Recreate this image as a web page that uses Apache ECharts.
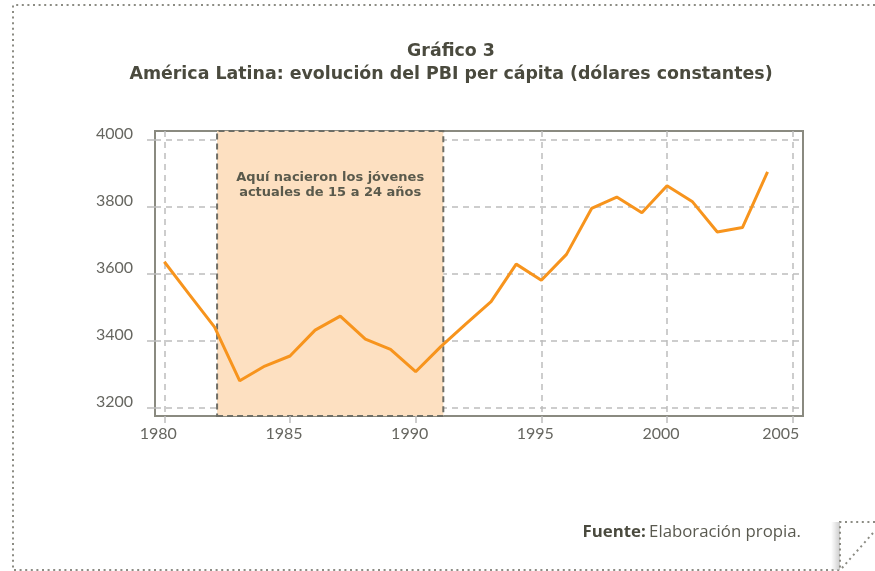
<!DOCTYPE html>
<html>
<head>
<meta charset="utf-8">
<script src="https://cdn.jsdelivr.net/npm/echarts@6/dist/echarts.min.js"></script>
<style>
  html, body { margin: 0; padding: 0; background: #fff; }
  #main { width: 875px; height: 571px; }
</style>
</head>
<body>
<div id="main"></div>
<script>
// años y PBI per cápita
var years = [1980, 1981, 1982, 1983, 1984, 1985, 1986, 1987, 1988, 1989, 1990, 1991,
             1992, 1993, 1994, 1995, 1996, 1997, 1998, 1999, 2000, 2001, 2002, 2003, 2004];
var pbi = [3635, 3537, 3440, 3280, 3324, 3354, 3431, 3473, 3404, 3374, 3307, 3382,
           3450, 3516, 3628, 3580, 3657, 3794, 3828, 3781, 3862, 3815, 3724, 3737, 3903];
var xTicks = [1980, 1985, 1990, 1995, 2000, 2005];
var yTicks = [3200, 3400, 3600, 3800, 4000];
var banda = [1982.1, 1991.1];

var textoBanda = 'Aquí nacieron los jóvenes\nactuales de 15 a 24 años';

var data = years.map(function (y, i) { return [y, pbi[i]]; });

var gris = '#8a8a80';
var punteado = { stroke: '#8c8c84', lineWidth: 2, lineDash: [2, 3.6] };

var option = {
    animation: false,
    grid: {
        left: 155, top: 131, right: 72, bottom: 155,
        show: true,
        borderColor: gris,
        borderWidth: 2,
        backgroundColor: 'transparent'
    },
    xAxis: {
        type: 'value',
        min: 1979.63,
        max: 2005.41,
        z: 1,
        axisLine: { show: false },
        axisTick: {
            show: true, length: 7, customValues: xTicks,
            lineStyle: { color: '#bdbdbd', width: 1.5 }
        },
        axisLabel: {
            customValues: xTicks,
            color: '#666660',
            fontFamily: 'Lato',
            fontSize: 16,
            margin: 10,
            padding: [0, 12, 0, 0],
            formatter: function (v) {
                return v === 2005 ? '{f|2005}' : String(v);
            },
            rich: { f: { fontFamily: 'Lato', fontSize: 16, color: '#666660', padding: [0, 12, 0, 0] } }
        },
        splitLine: {
            show: true,
            lineStyle: { color: '#bdbdbd', width: 1.5, type: [6, 5] }
        }
    },
    yAxis: {
        type: 'value',
        min: 3175,
        max: 4025,
        z: 1,
        axisLine: { show: false },
        axisTick: {
            show: true, length: 8, customValues: yTicks,
            lineStyle: { color: '#bdbdbd', width: 1.5 }
        },
        axisLabel: {
            customValues: yTicks,
            color: '#666660',
            fontFamily: 'Lato',
            fontSize: 16,
            margin: 22,
            verticalAlign: 'bottom',
            lineHeight: 12,
            formatter: function (v) { return String(v); }
        },
        splitLine: {
            show: true,
            lineStyle: { color: '#bdbdbd', width: 1.5, type: [6, 5] }
        }
    },
    series: [
        {
            type: 'line',
            z: 0,
            data: [],
            silent: true,
            markArea: {
                silent: true,
                itemStyle: {
                    color: '#fde0c1',
                    borderColor: '#6e6e66',
                    borderWidth: 2,
                    borderType: [6, 4]
                },
                label: {
                    show: true,
                    position: 'insideTop',
                    distance: 40,
                    color: '#5a5a4c',
                    fontFamily: 'DejaVu Sans',
                    fontWeight: 'bold',
                    fontSize: 13,
                    lineHeight: 15,
                    align: 'center'
                },
                data: [[{ xAxis: banda[0], name: textoBanda }, { xAxis: banda[1] }]]
            }
        },
        {
            type: 'line',
            z: 3,
            data: data,
            symbol: 'none',
            lineStyle: { color: '#f7941d', width: 3 },
            itemStyle: { color: '#f7941d' }
        }
    ],
    graphic: [
        {
            type: 'text',
            style: {
                text: 'Gráfico 3\nAmérica Latina: evolución del PBI per cápita (dólares constantes)',
                x: 451, y: 40,
                textAlign: 'center',
                fill: '#4a4a3e',
                font: 'bold 17.4px "DejaVu Sans"',
                lineHeight: 23
            }
        },
        {
            type: 'text',
            style: {
                text: '{b|Fuente:} {n|Elaboración propia.}',
                x: 801, y: 532,
                textAlign: 'right',
                textVerticalAlign: 'middle',
                rich: {
                    b: { font: 'bold 16.8px "Open Sans"', fill: '#4a4a3e' },
                    n: { font: '16.8px "Open Sans"', fill: '#5a5a50' }
                }
            }
        },
        // borde punteado de la página
        { type: 'polyline', silent: true, shape: { points: [[875, 5], [13, 5], [13, 570], [840, 570]] }, style: punteado },
        // esquina doblada
        {
            type: 'rect', silent: true,
            shape: { x: 831, y: 522, width: 9, height: 48 },
            style: {
                fill: new echarts.graphic.LinearGradient(0, 0, 1, 0, [
                    { offset: 0, color: 'rgba(200,200,200,0)' },
                    { offset: 1, color: 'rgba(190,190,190,0.8)' }
                ])
            }
        },
        { type: 'polyline', silent: true, shape: { points: [[875, 522], [840, 522], [840, 570]] }, style: punteado },
        { type: 'polyline', silent: true, shape: { points: [[873, 533], [842, 568]] }, style: punteado }
    ]
};

var myChart = echarts.init(document.getElementById('main'));
myChart.setOption(option);
</script>
</body>
</html>
